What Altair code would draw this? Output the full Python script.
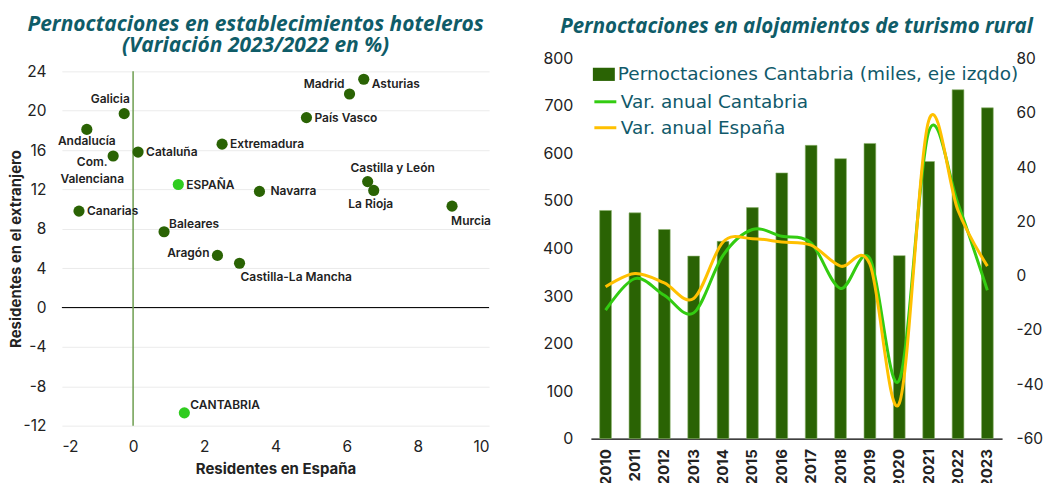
import altair as alt
import pandas as pd

# ---------------- Left panel data (scatter) ----------------
regiones = ["Galicia", "Andalucía", "Com. Valenciana", "Cataluña", "Canarias", "ESPAÑA",
            "Baleares", "Aragón", "Castilla-La Mancha", "Extremadura", "Navarra", "Madrid",
            "Asturias", "País Vasco", "Castilla y León", "La Rioja", "Murcia", "CANTABRIA"]
etiquetas = ["Galicia", "Andalucía", "Com.\nValenciana", "Cataluña", "Canarias", "ESPAÑA",
             "Baleares", "Aragón", "Castilla-La Mancha", "Extremadura", "Navarra", "Madrid",
             "Asturias", "País Vasco", "Castilla y León", "La Rioja", "Murcia", "CANTABRIA"]
residentes_espana = [-0.25, -1.30, -0.56, 0.14, -1.52, 1.27, 0.87, 2.37, 2.99, 2.50, 3.55,
                     6.08, 6.48, 4.87, 6.59, 6.76, 8.96, 1.44]
residentes_extranjero = [19.7, 18.1, 15.4, 15.8, 9.8, 12.5, 7.7, 5.3, 4.5, 16.6, 11.8,
                         21.7, 23.2, 19.3, 12.8, 11.9, 10.3, -10.7]
destacadas = ["ESPAÑA", "CANTABRIA"]
x_ticks = [-2, 0, 2, 4, 6, 8, 10]
y_ticks = [-12, -8, -4, 0, 4, 8, 12, 16, 20, 24]

# ---------------- Right panel data (bars + lines) ----------------
anios = ["2010", "2011", "2012", "2013", "2014", "2015", "2016", "2017", "2018", "2019",
         "2020", "2021", "2022", "2023"]
pernoctaciones = [480, 475, 440, 384, 415, 486, 559, 617, 589, 621, 385, 583, 734, 696]
var_cantabria = [-12.7, -1.1, -7.2, -13.7, 7.5, 17.0, 14.5, 12.0, -4.7, 6.3, -38.5, 53.0, 26.5, -5.4]
var_espana = [-4.1, 0.8, -2.7, -8.4, 12.4, 13.6, 12.4, 11.2, 3.5, 4.2, -47.0, 57.0, 24.0, 3.5]
serie_barras = "Pernoctaciones Cantabria (miles, eje izqdo)"
series_lineas = ["Var. anual Cantabria", "Var. anual España"]
left_ticks = [0, 100, 200, 300, 400, 500, 600, 700, 800]
right_ticks = [-60, -40, -20, 0, 20, 40, 60, 80]

# ---------------- styles ----------------
FONT = "Inter"
TITLE_FONT = "Open Sans"
LEGEND_FONT = "DejaVu Sans"
TITLE_COLOR = "#0f5c68"
DARK_GREEN = "#2a6304"
LIGHT_GREEN = "#2fcc1f"
LINE_GREEN = "#33cc11"
ORANGE = "#ffc000"
TEXT = "#222222"
HYPHEN = "'' + datum.value"

# label placement: align, baseline, dx, dy
LABEL_POS = {
    "Galicia": ("center", "middle", -14, -15),
    "Andalucía": ("center", "middle", 0, 12),
    "Com. Valenciana": ("center", "top", -21, 1),
    "Cataluña": ("left", "middle", 8, 0),
    "Canarias": ("left", "middle", 8, 0),
    "ESPAÑA": ("left", "middle", 8, 0),
    "Baleares": ("left", "middle", 5, -8),
    "Aragón": ("right", "middle", -8, -2),
    "Castilla-La Mancha": ("left", "middle", 1, 14),
    "Extremadura": ("left", "middle", 8, 0),
    "Navarra": ("left", "middle", 11, 0),
    "Madrid": ("right", "middle", -5, -10),
    "Asturias": ("left", "middle", 8, 5),
    "País Vasco": ("left", "middle", 8, 0),
    "Castilla y León": ("center", "middle", 25, -14),
    "La Rioja": ("center", "middle", -3, 14),
    "Murcia": ("center", "middle", 19, 15),
    "CANTABRIA": ("left", "middle", 6, -8),
}

# ================= Left chart =================
df_sc = pd.DataFrame({"region": regiones, "label": etiquetas,
                      "x": residentes_espana, "y": residentes_extranjero})
df_sc["tipo"] = ["destacada" if r in destacadas else "resto" for r in regiones]

LH = 368
xscale = alt.Scale(domain=[-2, 10], nice=False, zero=False)
yscale = alt.Scale(domain=[-12, 24], nice=False, zero=False, range=[LH, 13])
xaxis = alt.Axis(values=x_ticks, title="Residentes en España", grid=False, domain=False,
                 ticks=False, labelPadding=14, labelFontSize=15.5, labelColor=TEXT,
                 labelFont=FONT, titleFont=FONT, titleFontSize=15, titleFontWeight="bold",
                 titleColor=TEXT, titlePadding=6, labelExpr=HYPHEN)
yaxis = alt.Axis(values=y_ticks, title="Residentes en el extranjero", grid=True,
                 gridColor="#ebebeb", domain=False, ticks=False, labelPadding=16,
                 labelFontSize=15.5, labelColor=TEXT, labelFont=FONT, titleFont=FONT,
                 titleFontSize=15, titleFontWeight="bold", titleColor=TEXT, titlePadding=0,
                 labelExpr=HYPHEN)

X = alt.X("x:Q", scale=xscale, axis=xaxis)
Y = alt.Y("y:Q", scale=yscale, axis=yaxis)

df_h = pd.DataFrame({"y": [0]})
df_v = pd.DataFrame({"x": [0], "y": [y_ticks[0]], "y2": [y_ticks[-1]]})

hline = alt.Chart(df_h).mark_rule(color="#000000", strokeWidth=1).encode(y=Y)
vline = alt.Chart(df_v).mark_rule(color="#6e9e50", strokeWidth=1.5).encode(x=X, y=Y, y2="y2:Q")

points = alt.Chart(df_sc).mark_circle(size=125, opacity=1).encode(
    x=X, y=Y,
    color=alt.Color("tipo:N", scale=alt.Scale(domain=["destacada", "resto"],
                                              range=[LIGHT_GREEN, DARK_GREEN]), legend=None),
)

label_layers = []
for r in regiones:
    al, bl, dx, dy = LABEL_POS[r]
    label_layers.append(
        alt.Chart(df_sc).transform_filter(alt.datum.region == r).mark_text(
            align=al, baseline=bl, dx=dx, dy=dy, font=FONT, fontSize=12, fontWeight=600,
            color=TEXT, lineBreak="\n", lineHeight=17
        ).encode(x=X, y=Y, text="label:N")
    )

left = alt.layer(hline, vline, points, *label_layers).properties(
    width=428, height=LH,
    title=alt.TitleParams(
        text=["Pernoctaciones en establecimientos hoteleros", "(Variación 2023/2022 en %)"],
        font=TITLE_FONT, fontSize=21, fontStyle="italic", fontWeight="bold",
        color=TITLE_COLOR, anchor="middle", offset=2, dx=-20, lineHeight=21),
)

# ================= Right chart =================
df_bar = pd.DataFrame({"anio": anios, "valor": pernoctaciones, "serie": serie_barras})
df_line = pd.DataFrame({
    "anio": anios + anios,
    "valor": var_cantabria + var_espana,
    "serie": [series_lineas[0]] * len(anios) + [series_lineas[1]] * len(anios),
})

XB = alt.X("anio:N", sort=anios,
           scale=alt.Scale(paddingInner=0.6, paddingOuter=0.3),
           axis=alt.Axis(title=None, labelAngle=-90, labelFont=FONT, labelFontSize=15,
                         labelFontWeight="bold", labelColor=TEXT, ticks=False,
                         domain=True, domainColor="#000000", domainWidth=1.2,
                         labelPadding=10, grid=False))

# legends of a concatenated chart are positioned from the first panel's origin
LEG_X = 532
legend_common = dict(orient="none", title=None, labelFont=LEGEND_FONT, labelFontSize=18.5,
                     labelFontWeight="normal", labelColor="#10596a", labelLimit=600,
                     symbolSize=484, padding=0, labelOffset=3)

bars = alt.Chart(df_bar).mark_bar(stroke="#8db36f", strokeWidth=0.6).encode(
    x=XB,
    y=alt.Y("valor:Q", scale=alt.Scale(domain=[0, 800], nice=False),
            axis=alt.Axis(values=left_ticks, title=None, grid=False, domain=False,
                          ticks=False, labelPadding=18, labelFontSize=16, labelFont=FONT,
                          labelColor=TEXT)),
    fill=alt.Fill("serie:N", scale=alt.Scale(domain=[serie_barras], range=[DARK_GREEN]),
                  legend=alt.Legend(legendX=LEG_X, legendY=5,
                                    symbolType="M-1,-0.6H1V0.6H-1Z", symbolStrokeWidth=0,
                                    **legend_common)),
)

lines = alt.Chart(df_line).mark_line(interpolate="cardinal", strokeWidth=3).encode(
    x=XB,
    y=alt.Y("valor:Q", scale=alt.Scale(domain=[-60, 80], nice=False),
            axis=alt.Axis(values=right_ticks, orient="right", title=None, grid=False,
                          domain=False, ticks=False, labelPadding=14, labelFontSize=15.5,
                          labelFont=FONT, labelColor=TEXT, labelExpr=HYPHEN)),
    stroke=alt.Stroke("serie:N", scale=alt.Scale(domain=series_lineas,
                                                range=[LINE_GREEN, ORANGE]),
                      legend=alt.Legend(legendX=LEG_X, legendY=31, symbolType="stroke",
                                        symbolStrokeWidth=3, rowPadding=4,
                                        **legend_common)),
)

right = alt.layer(bars, lines).resolve_scale(y="independent").properties(
    width=412, height=381,
    title=alt.TitleParams(
        text="Pernoctaciones en alojamientos de turismo rural",
        font=TITLE_FONT, fontSize=20.5, fontStyle="italic", fontWeight="bold",
        color=TITLE_COLOR, anchor="middle", offset=13),
)

chart = alt.hconcat(left, right, spacing=51).properties(
    padding={"left": 0, "top": 6, "right": 0, "bottom": 0}
).configure_view(stroke=None)

chart.save("out.html", embed_options={"renderer": "svg", "actions": False})
